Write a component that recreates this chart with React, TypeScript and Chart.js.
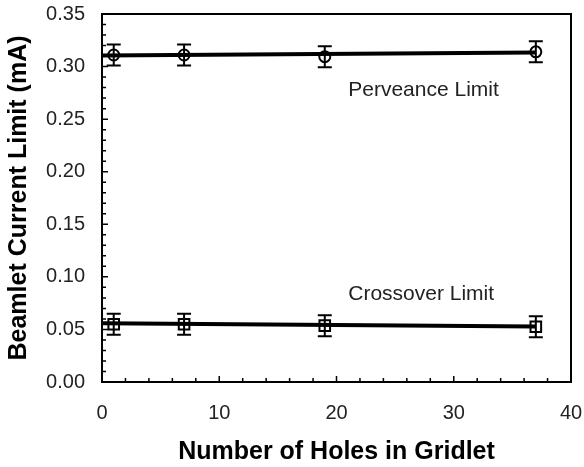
import React, { useEffect, useRef } from "react";
import { Chart, registerables } from "chart.js";

Chart.register(...registerables);

// ---- data ----
const holes = [1, 7, 19, 37];
const perveance = [0.311, 0.311, 0.3094, 0.314];
const perveanceErr = [0.01, 0.01, 0.01, 0.01];
const crossover = [0.0549, 0.0549, 0.0536, 0.0526];
const crossoverErr = [0.01, 0.01, 0.01, 0.01];
const perveanceFitX = [0, 37];
const perveanceFitY = [0.3105, 0.3135];
const crossoverFitX = [0, 37];
const crossoverFitY = [0.0558, 0.0528];
const xTicks = [0, 10, 20, 30, 40];
const yTicks = [0, 0.05, 0.1, 0.15, 0.2, 0.25, 0.3, 0.35];
const xMinorStep = 2;
const yMinorStep = 0.01;
const labelTexts = ["Perveance Limit", "Crossover Limit"];
const labelX = [21, 21];
const labelY = [0.2777, 0.0837];

const FONT = '"Liberation Sans", Arial, Helvetica, sans-serif';

const errorBarPlugin = {
  id: "errorBars",
  afterDatasetsDraw(chart: any) {
    const ctx = chart.ctx;
    const xs = chart.scales.x;
    const ys = chart.scales.y;
    const sets = [
      { y: perveance, e: perveanceErr },
      { y: crossover, e: crossoverErr },
    ];
    ctx.save();
    ctx.strokeStyle = "#000";
    ctx.lineWidth = 2;
    sets.forEach((s) => {
      holes.forEach((h, i) => {
        const px = xs.getPixelForValue(h);
        const top = ys.getPixelForValue(s.y[i] + s.e[i]);
        const bot = ys.getPixelForValue(s.y[i] - s.e[i]);
        ctx.beginPath();
        ctx.moveTo(px, top);
        ctx.lineTo(px, bot);
        ctx.moveTo(px - 7, top);
        ctx.lineTo(px + 7, top);
        ctx.moveTo(px - 7, bot);
        ctx.lineTo(px + 7, bot);
        ctx.stroke();
      });
    });
    ctx.restore();
  },
};

const frameTickPlugin = {
  id: "frameTicks",
  afterDraw(chart: any) {
    const ctx = chart.ctx;
    const { left, right, top, bottom } = chart.chartArea;
    const xs = chart.scales.x;
    const ys = chart.scales.y;
    ctx.save();
    ctx.strokeStyle = "#000";
    ctx.lineWidth = 2;
    ctx.strokeRect(left, top, right - left, bottom - top);
    ctx.lineWidth = 1.5;
    ctx.beginPath();
    const nx = Math.round((xs.max - xs.min) / xMinorStep);
    for (let i = 1; i < nx; i++) {
      const v = xs.min + i * xMinorStep;
      const p = xs.getPixelForValue(v);
      const major = xTicks.some((t) => Math.abs(t - v) < 1e-9);
      ctx.moveTo(p, bottom);
      ctx.lineTo(p, bottom - (major ? 6 : 4));
    }
    const ny = Math.round((ys.max - ys.min) / yMinorStep);
    for (let i = 1; i < ny; i++) {
      const v = ys.min + i * yMinorStep;
      const p = ys.getPixelForValue(v);
      const major = yTicks.some((t) => Math.abs(t - v) < 1e-9);
      ctx.moveTo(left, p);
      ctx.lineTo(left + (major ? 6 : 4), p);
    }
    ctx.stroke();
    ctx.fillStyle = "#222";
    ctx.font = `21px ${FONT}`;
    ctx.textAlign = "left";
    ctx.textBaseline = "middle";
    labelTexts.forEach((t, i) => {
      ctx.fillText(t, xs.getPixelForValue(labelX[i]), ys.getPixelForValue(labelY[i]));
    });
    ctx.restore();
  },
};

const zeroPad = (s: any) => {
  s.paddingLeft = 0;
  s.paddingRight = 0;
  s.paddingTop = 0;
  s.paddingBottom = 0;
};

export default function App() {
  const ref = useRef<HTMLCanvasElement>(null);
  useEffect(() => {
    if (!ref.current) return;
    const chart = new Chart(ref.current, {
      type: "scatter",
      data: {
        datasets: [
          {
            label: "Perveance fit",
            data: perveanceFitX.map((x, i) => ({ x, y: perveanceFitY[i] })),
            showLine: true,
            borderColor: "#000",
            borderWidth: 4,
            pointRadius: 0,
          },
          {
            label: "Crossover fit",
            data: crossoverFitX.map((x, i) => ({ x, y: crossoverFitY[i] })),
            showLine: true,
            borderColor: "#000",
            borderWidth: 4,
            pointRadius: 0,
          },
          {
            label: "Perveance Limit",
            data: holes.map((x, i) => ({ x, y: perveance[i] })),
            showLine: false,
            pointStyle: "circle",
            pointRadius: 5.5,
            pointBorderWidth: 2,
            pointBorderColor: "#000",
            pointBackgroundColor: "#fff",
          },
          {
            label: "Crossover Limit",
            data: holes.map((x, i) => ({ x, y: crossover[i] })),
            showLine: false,
            pointStyle: "rect",
            pointRadius: 7.5,
            pointBorderWidth: 2,
            pointBorderColor: "#000",
            pointBackgroundColor: "#fff",
          },
        ],
      },
      options: {
        responsive: false,
        animation: false,
        layout: { padding: { top: 14, right: 13, left: 0, bottom: 0 } },
        plugins: { legend: { display: false }, tooltip: { enabled: false } },
        scales: {
          x: {
            type: "linear",
            min: 0,
            max: 40,
            afterBuildTicks: (s: any) => {
              s.ticks = xTicks.map((v) => ({ value: v }));
            },
            afterFit: (s: any) => {
              s.height = 85;
              zeroPad(s);
            },
            grid: { display: false, drawTicks: false },
            border: { display: false },
            ticks: {
              font: { family: FONT, size: 20 },
              color: "#222",
              padding: 19,
              maxRotation: 0,
            },
            title: {
              display: true,
              text: "Number of Holes in Gridlet",
              font: { family: FONT, size: 25, weight: "bold" },
              color: "#000",
              padding: { top: 0, bottom: 0 },
            },
          },
          y: {
            type: "linear",
            min: 0,
            max: 0.35,
            afterBuildTicks: (s: any) => {
              s.ticks = yTicks.map((v) => ({ value: v }));
            },
            afterFit: (s: any) => {
              s.width = 102;
              zeroPad(s);
            },
            grid: { display: false, drawTicks: false },
            border: { display: false },
            ticks: {
              font: { family: FONT, size: 20 },
              color: "#222",
              padding: 17,
              callback: (v: any) => Number(v).toFixed(2),
            },
            title: {
              display: true,
              text: "Beamlet Current Limit (mA)",
              font: { family: FONT, size: 25, weight: "bold" },
              color: "#000",
              padding: { top: 4, bottom: 4 },
            },
          },
        },
      },
      plugins: [errorBarPlugin, frameTickPlugin],
    } as any);
    return () => chart.destroy();
  }, []);
  return (
    <canvas
      ref={ref}
      width={584}
      height={467}
      style={{ position: "absolute", left: 0, top: 0, display: "block" }}
    />
  );
}
